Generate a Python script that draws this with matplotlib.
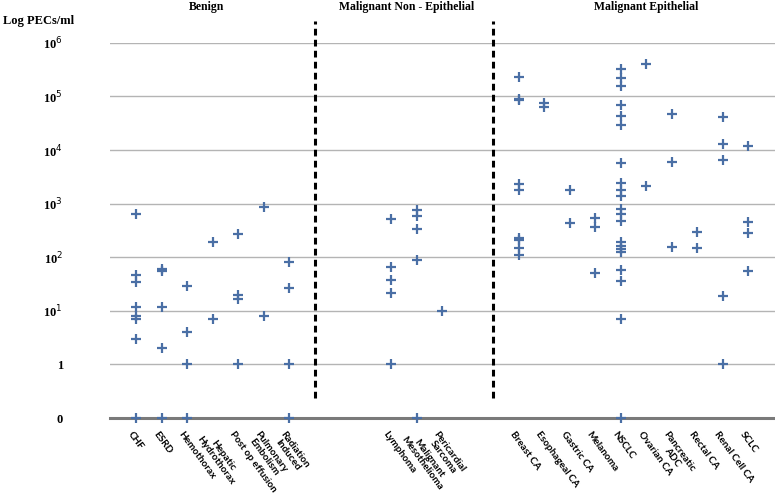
import numpy as np
import matplotlib
matplotlib.use("Agg")
import matplotlib.pyplot as plt

# categories and their slot on the x axis (empty slots separate groups)
categories = ["CHF", "ESRD", "Hemothorax", "Hepatic\nHydrothorax", "Post op effusion",
              "Pulmonary\nEmbolism", "Radiation\nInduced",
              "Lymphoma", "Malignant\nMesothelioma", "Pericardial\nSarcoma",
              "Breast CA", "Esophageal CA", "Gastric CA", "Melanoma", "NSCLC",
              "Ovarian CA", "Pancreatic\nADC", "Rectal CA", "Renal Cell CA", "SCLC"]
slots = [0, 1, 2, 3, 4, 5, 6, 10, 11, 12, 15, 16, 17, 18, 19, 20, 21, 22, 23, 24]

# PECs/ml per patient (0 = no cells)
values = [
    [650, 46, 35, 12, 8, 7, 3, 0],                      # CHF
    [60, 56, 12, 2, 0],                                 # ESRD
    [29, 4, 1, 0],                                      # Hemothorax
    [195, 7],                                           # Hepatic Hydrothorax
    [270, 20, 17, 1],                                   # Post op effusion
    [850, 8],                                           # Pulmonary Embolism
    [80, 27, 1, 0],                                     # Radiation Induced
    [520, 65, 38, 22, 1],                               # Lymphoma
    [750, 580, 340, 90, 0],                             # Malignant Mesothelioma
    [10],                                               # Pericardial Sarcoma
    [230000, 90000, 85000, 2300, 1800, 230, 210, 150, 110],  # Breast CA
    [75000, 65000],                                     # Esophageal CA
    [1800, 430],                                        # Gastric CA
    [550, 360, 50],                                     # Melanoma
    [330000, 220000, 160000, 68000, 43000, 29000, 5700, 2400, 1800, 1400,
     800, 640, 480, 190, 160, 140, 125, 58, 36, 7, 0],  # NSCLC
    [410000, 2100],                                     # Ovarian CA
    [48000, 5900, 155],                                 # Pancreatic ADC
    [290, 147],                                         # Rectal CA
    [41000, 13000, 6400, 19, 1],                        # Renal Cell CA
    [12000, 450, 280, 56],                              # SCLC
]

groups = ["Benign", "Malignant Non - Epithelial", "Malignant Epithelial"]
group_centers = [2.75, 10.6, 20.0]
dividers = [7, 14]

y_ticks = [0.1, 1, 10, 100, 1e3, 1e4, 1e5, 1e6]
y_labels = ["0", "1", "10$^1$", "10$^2$", "10$^3$", "10$^4$", "10$^5$", "10$^6$"]
ZERO = 0.1  # "0" is drawn one decade below 1

serif = ["Liberation Serif", "DejaVu Serif"]
sans = ["Lato", "DejaVu Sans"]
blue = "#4a6fa5"

fig = plt.figure(figsize=(7.75, 4.93), dpi=100)
ax = fig.add_axes([0.142, 0.152, 0.858, 0.761])
ax.set_yscale("log")
ax.set_ylim(0.1, 1e6)
ax.set_xlim(-1.02, 25.05)

for gy in y_ticks[1:]:
    ax.axhline(gy, color="#b4b4b4", lw=1.0, zorder=1)
ax.axhline(ZERO, color="#7a7a7a", lw=2.2, zorder=1, clip_on=False)

for s, vals in zip(slots, values):
    ys = [v if v > 0 else ZERO for v in vals]
    ax.plot([s] * len(ys), ys, linestyle="none", marker="+", ms=7.5, mew=1.6,
            color=blue, zorder=3, clip_on=False)

for d in dividers:
    ax.plot([d, d], [0.24, 10 ** 6.4], color="black", lw=2.2,
            dashes=(2.2, 1.4), clip_on=False, zorder=2)

for sp in ax.spines.values():
    sp.set_visible(False)

ax.set_yticks(y_ticks)
ax.set_yticklabels(y_labels, fontfamily=serif, fontweight="bold", fontsize=9)
ax.yaxis.set_minor_locator(matplotlib.ticker.NullLocator())
ax.tick_params(axis="y", length=0, pad=34)

ax.set_xticks(slots)
ax.set_xticklabels([])
ax.tick_params(axis="x", length=0)
for s, name in zip(slots, categories):
    ax.annotate(name, xy=(s, 0), xycoords=("data", "axes fraction"),
                xytext=(-2, -8.5), textcoords="offset points",
                rotation=-54, rotation_mode="anchor", ha="left", va="top",
                multialignment="center", linespacing=0.95, fontfamily=sans,
                fontweight="bold", fontsize=7.2)

for name, cx in zip(groups, group_centers):
    ax.text(cx, 1.095, name, transform=ax.get_xaxis_transform(), ha="center",
            va="center", fontfamily=serif, fontweight="bold", fontsize=8.5)

fig.text(0.004, 0.958, "Log PECs/ml", ha="left", va="center", fontfamily=serif,
         fontweight="bold", fontsize=9)

fig.savefig("out.png", dpi=100, facecolor="white")
